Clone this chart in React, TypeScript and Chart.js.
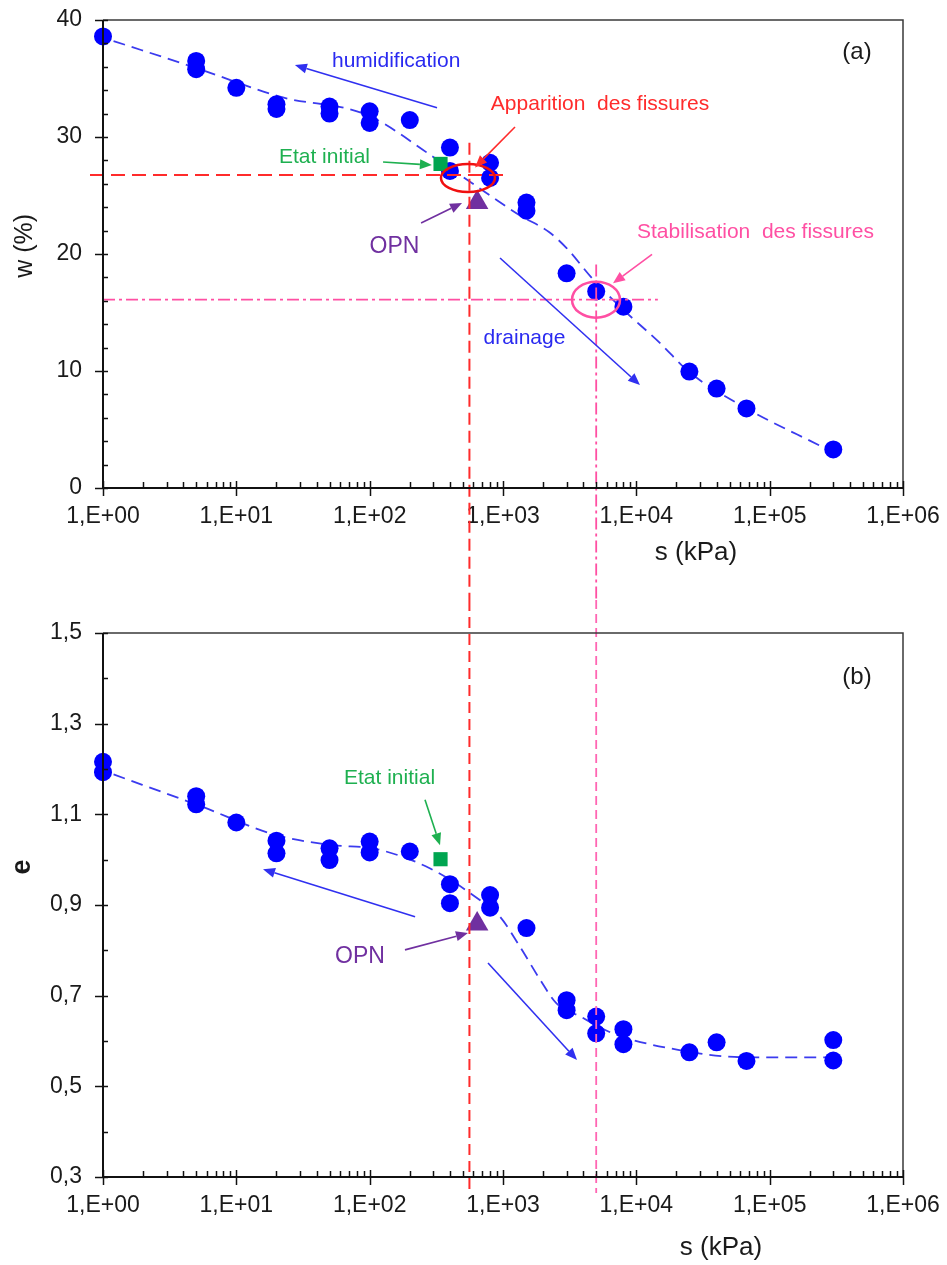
import React, { useEffect, useRef } from 'react';
import { Chart, registerables } from 'chart.js';
Chart.register(...registerables);

const FONT = '"Liberation Sans", Arial, sans-serif';

// ---- data: water content w (%) vs suction s (kPa)
const S_W = [1, 5, 5, 10, 20, 20, 50, 50, 100, 100, 200, 400, 400, 800, 800, 1500, 1500, 3000, 5000, 8000, 25000, 40000, 67000, 300000];
const W_VALUES = [38.6, 36.5, 35.8, 34.2, 32.8, 32.4, 32.6, 32.0, 32.2, 31.2, 31.45, 29.1, 27.1, 27.8, 26.5, 24.4, 23.7, 18.35, 16.8, 15.5, 9.95, 8.5, 6.8, 3.3];
const W_FIT_S = [1.2, 5, 22, 95, 300, 670, 1340, 2200, 3000, 4760, 7550, 15000, 25000, 67000, 250000];
const W_FIT = [38.2, 35.9, 33.4, 31.9, 28.3, 25.6, 23.3, 21.9, 20.5, 17.8, 15.5, 12.4, 9.9, 6.8, 3.5];

// ---- data: void ratio e vs suction s (kPa)
const S_E = [1, 1, 5, 5, 10, 20, 20, 50, 50, 100, 100, 200, 400, 400, 800, 800, 1500, 3000, 3000, 5000, 5000, 8000, 8000, 25000, 40000, 67000, 300000, 300000];
const E_VALUES = [1.216, 1.193, 1.14, 1.122, 1.082, 1.042, 1.014, 1.025, 0.999, 1.04, 1.016, 1.018, 0.946, 0.904, 0.922, 0.894, 0.849, 0.69, 0.668, 0.654, 0.617, 0.626, 0.593, 0.575, 0.597, 0.556, 0.602, 0.557];
const E_FIT_S = [1.2, 5.3, 20, 53, 110, 282, 670, 950, 1340, 1900, 2500, 3800, 6640, 21000, 67000, 300000];
const E_FIT = [1.188, 1.119, 1.054, 1.032, 1.024, 0.981, 0.911, 0.874, 0.808, 0.735, 0.684, 0.654, 0.617, 0.58, 0.564, 0.564];

// initial state and OPN
const INIT_S = 340;
const INIT_W = 27.7;
const INIT_E = 1.001;
const OPN_S = 640;
const OPN_W = 24.4;
const OPN_E = 0.858;

// reference lines
const S_CRACK = 560;
const W_CRACK = 26.75;
const S_STAB = 5000;
const W_STAB = 16.1;

// ticks
const X_MAJOR = [1, 10, 100, 1000, 10000, 100000, 1000000];
const X_LABELS = ['1,E+00', '1,E+01', '1,E+02', '1,E+03', '1,E+04', '1,E+05', '1,E+06'];
const W_TICK_LABELS = [0, 10, 20, 30, 40];
const E_TICK_VALUES = [0.3, 0.5, 0.7, 0.9, 1.1, 1.3, 1.5];
const E_TICK_LABELS = ['0,3', '0,5', '0,7', '0,9', '1,1', '1,3', '1,5'];

const X_ALL: number[] = [];
for (let d = 0; d < 6; d++) for (let k = 1; k <= 9; k++) X_ALL.push(k * X_MAJOR[d]);
X_ALL.push(1000000);

const BLUE_ARROW = '#3030f0';
const RED = '#ff2b2b';
const PINK = '#ff4fa3';
const GREEN = '#1eb050';
const PURPLE = '#7030a0';
const TXT = '#1a1a1a';

function drawArrow(ctx: CanvasRenderingContext2D, x1: number, y1: number, x2: number, y2: number, color: string, width: number) {
  const ang = Math.atan2(y2 - y1, x2 - x1);
  const head = 12, hw = 5;
  const bx = x2 - head * Math.cos(ang), by = y2 - head * Math.sin(ang);
  ctx.save();
  ctx.setLineDash([]);
  ctx.strokeStyle = color; ctx.fillStyle = color; ctx.lineWidth = width;
  ctx.beginPath(); ctx.moveTo(x1, y1); ctx.lineTo(bx, by); ctx.stroke();
  ctx.beginPath();
  ctx.moveTo(x2, y2);
  ctx.lineTo(bx + hw * Math.sin(ang), by - hw * Math.cos(ang));
  ctx.lineTo(bx - hw * Math.sin(ang), by + hw * Math.cos(ang));
  ctx.closePath(); ctx.fill();
  ctx.restore();
}

const annotPlugin = {
  id: 'annot',
  afterDatasetsDraw(chart: any) {
    const a = chart.options.plugins.annot;
    if (!a) return;
    const ctx: CanvasRenderingContext2D = chart.ctx;
    const xs = chart.scales.x, ys = chart.scales.y;
    const area = chart.chartArea;
    ctx.save();
    for (const l of a.hlines || []) {
      const y = ys.getPixelForValue(l.v);
      ctx.strokeStyle = l.color; ctx.lineWidth = l.width; ctx.setLineDash(l.dash);
      ctx.beginPath(); ctx.moveTo(area.left - (l.leftExt || 0), y); ctx.lineTo(xs.getPixelForValue(l.sTo), y); ctx.stroke();
    }
    for (const l of a.vlines || []) {
      const x = xs.getPixelForValue(l.s);
      const y1 = l.from === undefined ? 0 : ys.getPixelForValue(l.from);
      const y2 = l.below === undefined ? chart.height : area.bottom + l.below;
      ctx.strokeStyle = l.color; ctx.lineWidth = l.width; ctx.setLineDash(l.dash);
      ctx.beginPath(); ctx.moveTo(x, y1); ctx.lineTo(x, y2); ctx.stroke();
    }
    ctx.setLineDash([]);
    for (const e of a.ellipses || []) {
      ctx.strokeStyle = e.color; ctx.lineWidth = e.width;
      ctx.beginPath();
      ctx.ellipse(xs.getPixelForValue(e.s), ys.getPixelForValue(e.v), e.rx, e.ry, 0, 0, Math.PI * 2);
      ctx.stroke();
    }
    for (const r of a.arrows || []) {
      drawArrow(ctx, xs.getPixelForValue(r.s1), ys.getPixelForValue(r.v1), xs.getPixelForValue(r.s2), ys.getPixelForValue(r.v2), r.color, r.width);
    }
    for (const t of a.texts || []) {
      ctx.save();
      ctx.fillStyle = t.color;
      ctx.font = `${t.bold ? 'bold ' : ''}${t.size}px ${FONT}`;
      ctx.textAlign = 'center'; ctx.textBaseline = 'middle';
      const x = t.xPx !== undefined ? t.xPx : xs.getPixelForValue(t.s);
      const y = t.dy !== undefined ? area.bottom + t.dy : ys.getPixelForValue(t.v);
      ctx.translate(x, y);
      if (t.rot) ctx.rotate(-Math.PI / 2);
      ctx.fillText(t.text, 0, 0);
      ctx.restore();
    }
    ctx.restore();
  },
  afterDraw(chart: any) {
    const ctx: CanvasRenderingContext2D = chart.ctx;
    const xs = chart.scales.x, ys = chart.scales.y;
    const { left, right, top, bottom } = chart.chartArea;
    ctx.save();
    ctx.setLineDash([]);
    ctx.strokeStyle = '#3a3a3a'; ctx.lineWidth = 1.5;
    ctx.beginPath(); ctx.moveTo(left, top); ctx.lineTo(right, top); ctx.lineTo(right, bottom); ctx.stroke();
    ctx.strokeStyle = '#111'; ctx.lineWidth = 2;
    ctx.beginPath(); ctx.moveTo(left, top); ctx.lineTo(left, bottom); ctx.lineTo(right, bottom); ctx.stroke();
    ctx.lineWidth = 1.5;
    for (const t of xs.ticks) {
      const x = Math.round(xs.getPixelForValue(t.value)) + 0.5;
      const major = X_MAJOR.indexOf(t.value) >= 0;
      ctx.beginPath();
      ctx.moveTo(x, major ? bottom - 7 : bottom - 6);
      ctx.lineTo(x, major ? bottom + 8 : bottom);
      ctx.stroke();
    }
    for (const t of ys.ticks) {
      const y = Math.round(ys.getPixelForValue(t.value)) + 0.5;
      const major = t.label !== '' && t.label !== undefined;
      ctx.beginPath();
      ctx.moveTo(major ? left - 8 : left, y);
      ctx.lineTo(left + 5, y);
      ctx.stroke();
    }
    ctx.restore();
  },
};

function zeroPad(sc: any) {
  sc.paddingTop = 0; sc.paddingBottom = 0; sc.paddingLeft = 0; sc.paddingRight = 0;
}

function xScale(height: number) {
  return {
    type: 'logarithmic',
    min: 1,
    max: 1000000,
    afterBuildTicks: (sc: any) => { sc.ticks = X_ALL.map((v) => ({ value: v })); },
    afterFit: (sc: any) => { sc.height = height; zeroPad(sc); },
    grid: { display: false, drawTicks: false },
    border: { display: false },
    ticks: {
      autoSkip: false,
      maxRotation: 0,
      minRotation: 0,
      padding: 15,
      color: TXT,
      font: { size: 23, family: FONT },
      callback: (v: any) => { const i = X_MAJOR.indexOf(Number(v)); return i >= 0 ? X_LABELS[i] : ''; },
    },
  };
}

function fitDataset(sv: number[], vv: number[]) {
  return {
    data: sv.map((s, i) => ({ x: s, y: vv[i] })),
    showLine: true,
    pointRadius: 0,
    borderColor: '#3b3bef',
    borderWidth: 1.8,
    borderDash: [12, 7],
    cubicInterpolationMode: 'monotone',
    fill: false,
  };
}

function pointsDataset(sv: number[], vv: number[]) {
  return {
    data: sv.map((s, i) => ({ x: s, y: vv[i] })),
    pointStyle: 'circle',
    pointRadius: 9,
    backgroundColor: '#0000ff',
    borderColor: '#0000ff',
    borderWidth: 0,
    showLine: false,
    clip: false,
  };
}

function markerDatasets(initV: number, opnV: number) {
  return [
    { data: [{ x: OPN_S, y: opnV }], pointStyle: 'triangle', pointRadius: 13, backgroundColor: PURPLE, borderColor: PURPLE, borderWidth: 0, clip: false },
    { data: [{ x: INIT_S, y: initV }], pointStyle: 'rect', pointRadius: 10, backgroundColor: '#00a550', borderColor: '#00a550', borderWidth: 0, clip: false },
  ];
}

function yTicks(callback: (v: any) => string) {
  return {
    autoSkip: false,
    padding: 21,
    color: TXT,
    font: { size: 23, family: FONT },
    callback,
  };
}

const topConfig: any = {
  type: 'scatter',
  data: {
    datasets: [
      ...markerDatasets(INIT_W, OPN_W),
      pointsDataset(S_W, W_VALUES),
      fitDataset(W_FIT_S, W_FIT),
    ],
  },
  options: {
    animation: false,
    responsive: true,
    maintainAspectRatio: false,
    events: [],
    layout: { padding: { left: 0, right: 44, top: 20, bottom: 0 } },
    plugins: {
      legend: { display: false },
      tooltip: { enabled: false },
      annot: {
        hlines: [
          { v: W_CRACK, sTo: 1053, leftExt: 13, color: RED, width: 2, dash: [14, 7] },
          { v: W_STAB, sTo: 14500, leftExt: 0, color: PINK, width: 1.8, dash: [12, 4, 3, 4] },
        ],
        vlines: [
          { s: S_CRACK, from: 29.5, color: RED, width: 2, dash: [12, 6] },
          { s: S_STAB, from: 19.1, color: PINK, width: 1.8, dash: [12, 4, 3, 4] },
        ],
        ellipses: [
          { s: 546, v: 26.5, rx: 27, ry: 14, color: '#f01010', width: 2.5 },
          { s: 4984, v: 16.1, rx: 24, ry: 18, color: PINK, width: 2.5 },
        ],
        arrows: [
          { s1: 320, v1: 32.5, s2: 27.5, v2: 36.15, color: BLUE_ARROW, width: 1.6 },
          { s1: 950, v1: 19.66, s2: 10650, v2: 8.8, color: BLUE_ARROW, width: 1.6 },
          { s1: 1230, v1: 30.85, s2: 617, v2: 27.4, color: RED, width: 1.6 },
          { s1: 13110, v1: 19.96, s2: 6683, v2: 17.5, color: PINK, width: 1.6 },
          { s1: 126, v1: 27.86, s2: 293, v2: 27.6, color: GREEN, width: 1.6 },
          { s1: 243, v1: 22.65, s2: 493, v2: 24.36, color: PURPLE, width: 1.6 },
        ],
        texts: [
          { s: 158, v: 36.5, text: 'humidification', color: '#2a2af0', size: 21 },
          { s: 1449, v: 12.8, text: 'drainage', color: '#2a2af0', size: 21 },
          { s: 5340, v: 32.8, text: 'Apparition  des fissures', color: RED, size: 21 },
          { s: 78300, v: 21.9, text: 'Stabilisation  des fissures', color: PINK, size: 21 },
          { s: 45.8, v: 28.3, text: 'Etat initial', color: GREEN, size: 21 },
          { s: 153.6, v: 20.6, text: 'OPN', color: PURPLE, size: 23 },
          { s: 451800, v: 37.26, text: '(a)', color: TXT, size: 24 },
          { xPx: 25, v: 20.7, text: 'w (%)', color: TXT, size: 25, rot: true },
          { s: 28000, dy: 65, text: 's (kPa)', color: TXT, size: 26 },
        ],
      },
    },
    scales: {
      x: xScale(112),
      y: {
        min: 0,
        max: 40,
        afterFit: (sc: any) => { sc.width = 103; zeroPad(sc); },
        grid: { display: false, drawTicks: false },
        border: { display: false },
        ticks: {
          stepSize: 2,
          ...yTicks((v: any) => (W_TICK_LABELS.indexOf(Number(v)) >= 0 ? String(v) : '')),
        },
      },
    },
  },
  plugins: [annotPlugin],
};

const bottomConfig: any = {
  type: 'scatter',
  data: {
    datasets: [
      ...markerDatasets(INIT_E, OPN_E),
      pointsDataset(S_E, E_VALUES),
      fitDataset(E_FIT_S, E_FIT),
    ],
  },
  options: {
    animation: false,
    responsive: true,
    maintainAspectRatio: false,
    events: [],
    layout: { padding: { left: 0, right: 44, top: 33, bottom: 0 } },
    plugins: {
      legend: { display: false },
      tooltip: { enabled: false },
      annot: {
        vlines: [
          { s: S_CRACK, below: 16, color: RED, width: 2, dash: [11, 6] },
          { s: S_STAB, below: 16, color: '#ff66b3', width: 1.8, dash: [9, 5] },
        ],
        arrows: [
          { s1: 219, v1: 0.874, s2: 15.85, v2: 0.979, color: BLUE_ARROW, width: 1.6 },
          { s1: 772, v1: 0.772, s2: 3590, v2: 0.558, color: BLUE_ARROW, width: 1.6 },
          { s1: 260, v1: 1.132, s2: 337, v2: 1.032, color: GREEN, width: 1.6 },
          { s1: 184, v1: 0.801, s2: 546, v2: 0.838, color: PURPLE, width: 1.6 },
        ],
        texts: [
          { s: 140.9, v: 1.18, text: 'Etat initial', color: GREEN, size: 21 },
          { s: 84.6, v: 0.785, text: 'OPN', color: PURPLE, size: 23 },
          { s: 451800, v: 1.403, text: '(b)', color: TXT, size: 24 },
          { xPx: 23, v: 0.984, text: 'e', color: TXT, size: 27, bold: true, rot: true },
          { s: 43150, dy: 71, text: 's (kPa)', color: TXT, size: 26 },
        ],
      },
    },
    scales: {
      x: xScale(88),
      y: {
        min: 0.3,
        max: 1.5,
        afterFit: (sc: any) => { sc.width = 103; zeroPad(sc); },
        grid: { display: false, drawTicks: false },
        border: { display: false },
        ticks: {
          stepSize: 0.1,
          ...yTicks((v: any) => {
            const i = E_TICK_VALUES.findIndex((t) => Math.abs(t - Number(v)) < 1e-6);
            return i >= 0 ? E_TICK_LABELS[i] : '';
          }),
        },
      },
    },
  },
  plugins: [annotPlugin],
};

export default function App() {
  const topRef = useRef<HTMLCanvasElement>(null);
  const botRef = useRef<HTMLCanvasElement>(null);
  useEffect(() => {
    const c1 = new Chart(topRef.current as HTMLCanvasElement, topConfig);
    const c2 = new Chart(botRef.current as HTMLCanvasElement, bottomConfig);
    return () => { c1.destroy(); c2.destroy(); };
  }, []);
  return (
    <div style={{ position: 'absolute', left: 0, top: 0, width: 947, height: 1265, background: '#fff' }}>
      <div style={{ position: 'absolute', left: 0, top: 0, width: 947, height: 600 }}>
        <canvas ref={topRef} />
      </div>
      <div style={{ position: 'absolute', left: 0, top: 600, width: 947, height: 665 }}>
        <canvas ref={botRef} />
      </div>
    </div>
  );
}
